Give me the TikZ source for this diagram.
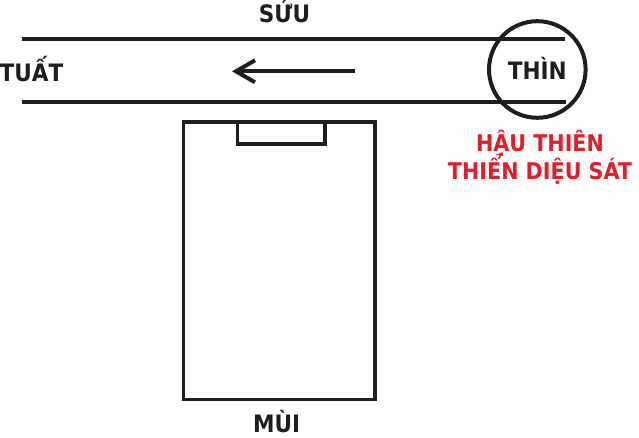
\documentclass[tikz,border=0pt]{standalone}
\usepackage{fontspec}
\setmainfont{DejaVu Sans Condensed}[BoldFont={DejaVu Sans Condensed Bold}]
\usetikzlibrary{arrows.meta}
\definecolor{labelred}{RGB}{226,30,40}
\definecolor{ink}{RGB}{30,30,30}

\begin{document}
\begin{tikzpicture}[x=1pt,y=-1pt,
    road/.style={draw=ink,line width=4pt},
    lbl/.style={inner sep=0pt,anchor=base,text=ink,font=\bfseries\fontsize{24}{28}\selectfont},
    redlbl/.style={inner sep=0pt,anchor=base,text=labelred,font=\bfseries\fontsize{23}{28}\selectfont}]
            \useasboundingbox (0,0) rectangle (639,438);
            % Draw the two sides of the road
            \draw[road] (22,39.5) -- (565,39.5);
            \draw[road] (22,102.5) -- (566,102.5);

            % Draw the direction of the flow
            \coordinate (flowstart) at (355,71.3);
            \coordinate (flowend) at (232,71.3);
            \draw[road,-{Straight Barb[length=19pt,width=22pt]}] (flowstart) -- (flowend);

            % Draw the circle around Thin
            \draw[road] (537.3,69.5) circle(48.3);

            % Draw the house with its door
            \draw[draw=ink,line width=3.8pt] (183.5,122) rectangle (375,399.5);
            \draw[draw=ink,line width=3.8pt] (237.5,122) rectangle (325,144);

            % Label the directions
            \node[lbl] (suu) at (284.5,22.7) {SỬU};
            \node[lbl,anchor=base west] (tuat) at (-0.5,82) {TUẤT};
            \node[lbl] (thin) at (537.3,80) {THÌN};
            \node[lbl,text depth=0pt] (mui) at (276.7,432) {MÙI};
            \node[redlbl] (hau) at (540,151.7) {HẬU THIÊN};
            \node[redlbl] (dieu) at (540,180) {THIỂN DIỆU SÁT};
        \end{tikzpicture}
\end{document}
